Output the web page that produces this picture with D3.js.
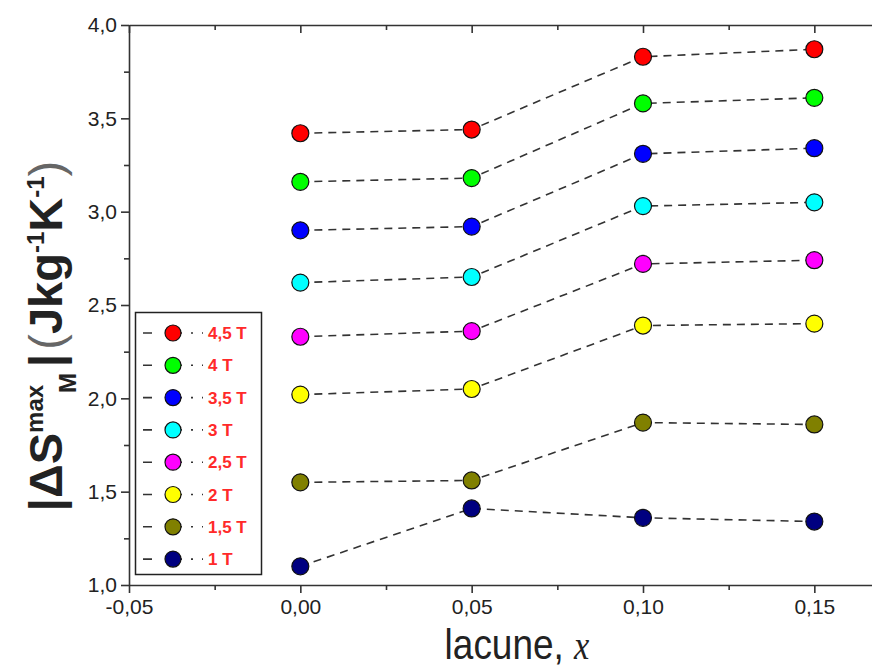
<!DOCTYPE html>
<html>
<head>
<meta charset="utf-8">
<script src="https://cdn.jsdelivr.net/npm/d3@7"></script>
<style>
  html, body { margin: 0; padding: 0; background: #fff; }
  svg { display: block; }
</style>
</head>
<body>
<svg id="chart" width="872" height="668"></svg>
<script>
// ---- data ----
const xValues = [0.00, 0.05, 0.10, 0.15];
const seriesNames = ["4,5 T", "4 T", "3,5 T", "3 T", "2,5 T", "2 T", "1,5 T", "1 T"];
const seriesColors = ["#ff0000", "#00ff00", "#0000ff", "#00ffff", "#ff00ff", "#ffff00", "#808000", "#000080"];
const s45 = [3.42, 3.44, 3.83, 3.87];
const s40 = [3.16, 3.18, 3.58, 3.61];
const s35 = [2.90, 2.92, 3.31, 3.34];
const s30 = [2.62, 2.65, 3.03, 3.05];
const s25 = [2.33, 2.36, 2.72, 2.74];
const s20 = [2.02, 2.05, 2.39, 2.40];
const s15 = [1.55, 1.56, 1.87, 1.86];
const s10 = [1.10, 1.41, 1.36, 1.34];
const seriesValues = [s45, s40, s35, s30, s25, s20, s15, s10];
const xTicks = [-0.05, 0.00, 0.05, 0.10, 0.15];
const xMinorTicks = [-0.025, 0.025, 0.075, 0.125];
const yTicks = [1.0, 1.5, 2.0, 2.5, 3.0, 3.5, 4.0];
const yMinorTicks = [1.25, 1.75, 2.25, 2.75, 3.25, 3.75];

// ---- layout ----
const svg = d3.select("#chart");
const mLeft = 129, mTop = 25, mBottom = 585, mRight = 900;
const x = d3.scaleLinear().domain([-0.05, 0.175]).range([mLeft, mRight]);
const y = d3.scaleLinear().domain([1, 4]).range([mBottom, mTop]);
const axisColor = "#333";
const comma = d => d3.format(".2f")(d).replace(".", ",").replace("\u2212", "-");
const comma1 = d => d3.format(".1f")(d).replace(".", ",");

// bottom axis
const gx = svg.append("g").attr("transform", `translate(0,${mBottom})`)
  .call(d3.axisBottom(x).tickValues(xTicks).tickFormat(comma).tickSize(8).tickSizeOuter(0));
svg.append("g").attr("transform", `translate(0,${mBottom})`)
  .call(d3.axisBottom(x).tickValues(xMinorTicks).tickFormat("").tickSize(5).tickSizeOuter(0))
  .select(".domain").remove();
gx.selectAll("text")
  .attr("dy", "0.85em")
  .style("font-family", "'Liberation Sans', Arial, sans-serif")
  .style("font-size", "21px").style("fill", "#222");

// top axis (ticks pointing inward)
svg.append("g").attr("transform", `translate(0,${mTop})`)
  .call(d3.axisBottom(x).tickValues(xTicks).tickFormat("").tickSize(8).tickSizeOuter(0));
svg.append("g").attr("transform", `translate(0,${mTop})`)
  .call(d3.axisBottom(x).tickValues(xMinorTicks).tickFormat("").tickSize(5).tickSizeOuter(0))
  .select(".domain").remove();

// left axis
const gy = svg.append("g").attr("transform", `translate(${mLeft},0)`)
  .call(d3.axisLeft(y).tickValues(yTicks).tickFormat(comma1).tickSize(8).tickSizeOuter(0));
svg.append("g").attr("transform", `translate(${mLeft},0)`)
  .call(d3.axisLeft(y).tickValues(yMinorTicks).tickFormat("").tickSize(5).tickSizeOuter(0))
  .select(".domain").remove();
gy.selectAll("text")
  .attr("x", -12)
  .style("font-family", "'Liberation Sans', Arial, sans-serif")
  .style("font-size", "21px").style("fill", "#222");

svg.selectAll(".domain, .tick line").attr("stroke", axisColor).attr("stroke-width", 1.6);

// ---- series ----
const line = d3.line().x((d, i) => x(xValues[i])).y(d => y(d));
seriesValues.forEach((vals, si) => {
  svg.append("path").datum(vals)
    .attr("d", line)
    .attr("fill", "none")
    .attr("stroke", "#333")
    .attr("stroke-width", 1.6)
    .attr("stroke-dasharray", "8,6");
});
seriesValues.forEach((vals, si) => {
  svg.append("g").selectAll("circle").data(vals).join("circle")
    .attr("cx", (d, i) => x(xValues[i]))
    .attr("cy", d => y(d))
    .attr("r", 8.5)
    .attr("fill", seriesColors[si])
    .attr("stroke", "#111")
    .attr("stroke-width", 1.2);
});

// ---- legend ----
const lg = svg.append("g");
lg.append("rect").attr("x", 135.5).attr("y", 312.5).attr("width", 126).attr("height", 262)
  .attr("fill", "#fff").attr("stroke", "#222").attr("stroke-width", 1.5);
seriesNames.forEach((name, i) => {
  const ly = 333 + i * 32.3;
  lg.append("line").attr("x1", 143).attr("x2", 203).attr("y1", ly).attr("y2", ly)
    .attr("stroke", "#333").attr("stroke-width", 1.6).attr("stroke-dasharray", "9,21,9,9,2");
  lg.append("circle").attr("cx", 173).attr("cy", ly).attr("r", 8)
    .attr("fill", seriesColors[i]).attr("stroke", "#111").attr("stroke-width", 1.2);
  lg.append("text").attr("x", 208).attr("y", ly).attr("dy", "0.36em")
    .style("font-family", "'Liberation Sans', Arial, sans-serif")
    .style("font-weight", "bold").style("font-size", "17px")
    .style("fill", "#ff2a2a").text(name);
});

// ---- axis titles ----
const xt = svg.append("text")
  .attr("transform", "translate(517,659) scale(0.86,1)")
  .attr("text-anchor", "middle")
  .style("font-family", "'Liberation Sans', Arial, sans-serif")
  .style("font-size", "43px").style("fill", "#222");
xt.append("tspan").text("lacune, ");
xt.append("tspan").style("font-family", "'Liberation Serif', 'Times New Roman', serif")
  .style("font-style", "italic").style("font-size", "40px").text("x");

const yt = svg.append("text")
  .attr("transform", "translate(62,336) rotate(-90)")
  .attr("text-anchor", "middle")
  .style("font-family", "'Liberation Sans', Arial, sans-serif")
  .style("font-weight", "bold").style("font-size", "47px").style("fill", "#222");
yt.append("tspan").text("|ΔS");
yt.append("tspan").style("font-size", "24px").attr("dy", "-19").text("max");
yt.append("tspan").style("font-size", "24px").attr("dx", "-8").attr("dy", "33").text("M");
yt.append("tspan").attr("dx", "6").attr("dy", "-14").text("|");
yt.append("tspan").style("font-weight", "normal").style("fill", "#666").attr("dx", "4").text("(");
yt.append("tspan").text("Jkg");
yt.append("tspan").style("font-size", "24px").attr("dy", "-18").text("-1");
yt.append("tspan").attr("dy", "18").text("K");
yt.append("tspan").style("font-size", "24px").attr("dy", "-18").text("-1");
yt.append("tspan").attr("dy", "18").style("font-weight", "normal").style("fill", "#666").text(")");
</script>
</body>
</html>
